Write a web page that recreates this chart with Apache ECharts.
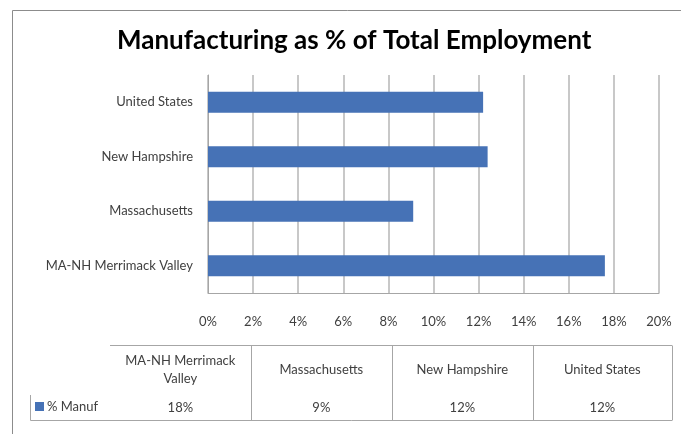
<!DOCTYPE html>
<html>
<head>
<meta charset="utf-8">
<script src="https://cdn.jsdelivr.net/npm/echarts@6/dist/echarts.min.js"></script>
<style>
html,body{margin:0;padding:0;background:#fff;}
#c{width:681px;height:434px;}
</style>
</head>
<body>
<div id="c"></div>
<script>
var titleText = 'Manufacturing as % of Total Employment';
var categories = ['MA-NH Merrimack Valley', 'Massachusetts', 'New Hampshire', 'United States'];
var tableHeaders = ['MA-NH Merrimack\nValley', 'Massachusetts', 'New Hampshire', 'United States'];
var seriesName = '% Manuf';
var values = [17.6, 9.1, 12.4, 12.2];
var tickLabels = ['0%', '2%', '4%', '6%', '8%', '10%', '12%', '14%', '16%', '18%', '20%'];

var chart = echarts.init(document.getElementById('c'), null, {renderer: 'canvas'});
var FONT = 'Lato, "Open Sans", sans-serif';
var TXT = '#404040';
var LINE = '#a6a6a6';
var BAR = '#4672b6';

// table layout
var colX = [110, 250.7, 392, 532.7, 672];
var tTop = 345.5, tBottom = 420.5, legTop = 395;
var g = [];
g.push({type: 'rect', shape: {x: 12.5, y: 10.5, width: 720, height: 500}, style: {fill: 'none', stroke: '#8c8c8c', lineWidth: 1}, silent: true, z: 0});
g.push({type: 'line', shape: {x1: colX[0], y1: tTop, x2: colX[4], y2: tTop}, style: {stroke: LINE, lineWidth: 1}});
g.push({type: 'line', shape: {x1: 30.5, y1: tBottom, x2: colX[4], y2: tBottom}, style: {stroke: LINE, lineWidth: 1}});
g.push({type: 'line', shape: {x1: 30.5, y1: legTop, x2: 30.5, y2: tBottom}, style: {stroke: LINE, lineWidth: 1}});
for (var i = 0; i < colX.length; i++) {
  if (i === 0) continue;
  var xx = Math.round(colX[i]) + 0.5;
  g.push({type: 'line', shape: {x1: xx, y1: tTop, x2: xx, y2: tBottom}, style: {stroke: LINE, lineWidth: 1}});
}
for (var j = 0; j < tableHeaders.length; j++) {
  var cx = (colX[j] + colX[j + 1]) / 2;
  g.push({type: 'text', x: cx, y: 370, style: {text: tableHeaders[j], font: '13px ' + FONT, fill: TXT, textAlign: 'center', textVerticalAlign: 'middle', lineHeight: 18}});
  g.push({type: 'text', x: cx, y: 408, style: {text: Math.round(values[j]) + '%', font: '13px ' + FONT, fill: TXT, textAlign: 'center', textVerticalAlign: 'middle'}});
}
g.push({type: 'rect', shape: {x: 35, y: 402, width: 9, height: 9}, style: {fill: BAR}});
g.push({type: 'text', x: 47, y: 407, style: {text: seriesName, font: '13px ' + FONT, fill: TXT, textAlign: 'left', textVerticalAlign: 'middle'}});

chart.setOption({
  animation: false,
  backgroundColor: '#fff',
  title: {
    text: titleText, left: 112, top: 23,
    textStyle: {fontFamily: FONT, fontWeight: 'bold', fontSize: 26, color: '#000'}
  },
  grid: {left: 208, right: 22, top: 75, bottom: 141, containLabel: false},
  xAxis: {
    type: 'value', min: 0, max: 20, interval: 2,
    axisLine: {show: true, lineStyle: {color: LINE, width: 1}},
    axisTick: {show: false},
    splitLine: {show: true, lineStyle: {color: '#c8c8c8', width: 2}},
    axisLabel: {
      margin: 22, fontFamily: FONT, fontSize: 13, color: TXT,
      formatter: function (v) { return tickLabels[Math.round(v / 2)]; }
    }
  },
  yAxis: {
    type: 'category', data: categories,
    axisLine: {show: true, lineStyle: {color: LINE, width: 1}},
    axisTick: {show: false},
    axisLabel: {margin: 15, fontFamily: FONT, fontSize: 13, color: TXT}
  },
  series: [{
    name: seriesName, type: 'bar', data: values,
    barWidth: 21,
    itemStyle: {color: BAR}
  }],
  graphic: g
});
</script>
</body>
</html>
